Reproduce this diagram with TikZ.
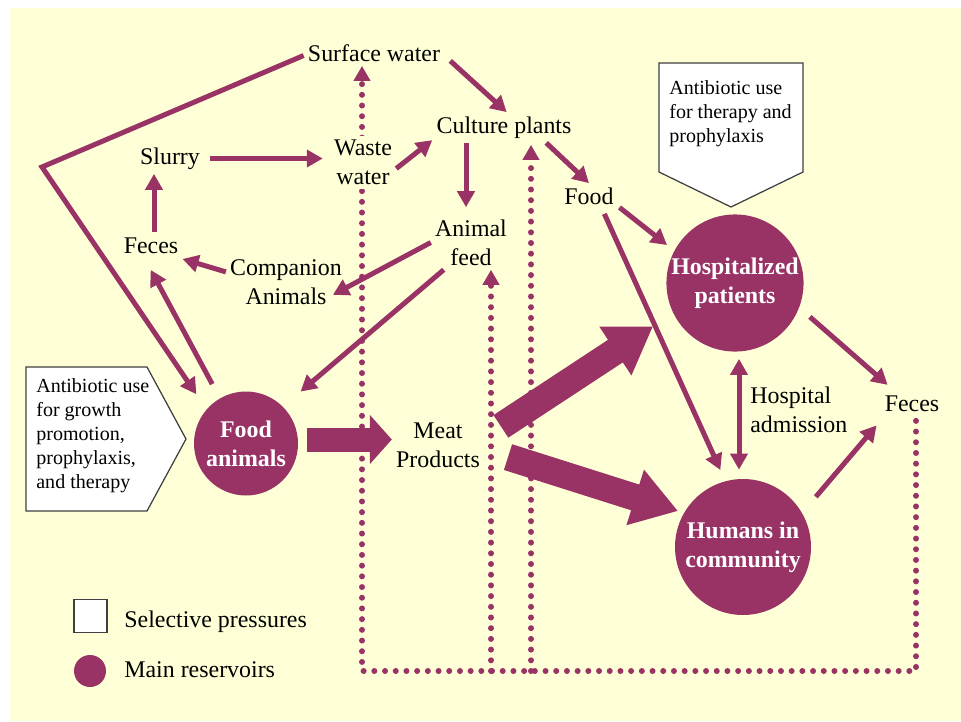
\documentclass[tikz,border=0pt]{standalone}
\usepackage{fontspec}
\setmainfont{Liberation Serif}
\usetikzlibrary{arrows.meta}
\definecolor{plum}{RGB}{153,51,102}
\definecolor{cream}{RGB}{255,255,215}

\begin{document}
\begin{tikzpicture}[x=0.2mm, y=-0.2mm,
  font=\fontsize{13.6}{16.5}\selectfont,
  word/.style={inner sep=0.8mm, text height=3.3mm, text depth=1.1mm},
  twoline/.style={inner sep=0.8mm, align=center},
  pool/.style={circle, fill=plum, text=white, inner sep=0pt, align=center,
    font=\fontsize{13.6}{16.5}\selectfont\bfseries},
  note/.style={inner sep=0pt, align=left, font=\fontsize{11.4}{13.7}\selectfont},
  pressure/.style={fill=white, draw=black!75, line width=0.25mm},
  arr/.style={draw=plum, line width=1mm, -{Triangle[length=3.2mm,width=3.4mm]}},
  dbl/.style={draw=plum, line width=1mm,
    {Triangle[length=3.2mm,width=3.4mm]}-{Triangle[length=3.2mm,width=3.4mm]}},
  fat/.style={draw=plum, line width=5.4mm, -{Triangle[length=9mm,width=11mm]}},
  dots/.style={draw=plum, line width=1.2mm, line cap=round,
    dash pattern=on 0pt off 2.14mm, -{Triangle[length=3mm,width=3.2mm]}}]

  \useasboundingbox (0,0) rectangle (961,721);
  \fill[cream] (10,8) rectangle (961,721);

  % reservoirs
  \node[pool, minimum size=27.2mm] (hosp) at (735,283) {Hospitalized\\patients};
  \node[pool, minimum size=27.2mm] (hum) at (743,547) {Humans in\\community};
  \node[pool, minimum size=20.8mm] (fa) at (246,443.5) {Food\\animals};

  % everything else
  \node[word] (sw) at (374,55.5) {Surface water};
  \node[word] (cp) at (504,127.5) {Culture plants};
  \node[word] (slurry) at (170,158.5) {Slurry};
  \node[word] (fecesL) at (151,247.5) {Feces};
  \node[twoline] (comp) at (286,282.5) {Companion\\Animals};
  \node[twoline] (feed) at (471,242.5) {Animal\\feed};
  \node[word] (food) at (589,198.5) {Food};
  \node[twoline] (meat) at (438,445.5) {Meat\\Products};
  \node[word] (fecesR) at (912,405.5) {Feces};
  \node[inner sep=0pt, align=left, anchor=west] (adm) at (750,409.5) {Hospital\\admission};
  \coordinate (bend) at (42,167);
  \coordinate (loop) at (362,671);

  % back flow
  \draw[dots, shorten >=-1mm] ([xshift=0.8mm]fecesR.south) |- (loop) -- (loop |- sw.south);
  \draw[dots] ([xshift=4mm]feed.south |- loop) -- ([xshift=4mm]feed.south);
  \draw[dots, shorten >=0.4mm] ([xshift=5.4mm]cp.south |- loop) -- ([xshift=5.4mm]cp.south);
  \node[twoline, fill=cream] (waste) at (363,162.7) {Waste\\water};

  % selective pressures
  \draw[pressure] (659,63) -- (803,63) -- (803,172) -- (731,207) -- (659,172) -- cycle;
  \node[note, anchor=north west] (usehosp) at (669,80) {Antibiotic use\\for therapy and\\prophylaxis};
  \draw[pressure] (26,367) -- (147,367) -- (186,439) -- (147,511) -- (26,511) -- cycle;
  \node[note, anchor=north west] (usefarm) at (36,378) {Antibiotic use\\for growth\\promotion,\\prophylaxis,\\and therapy};

  \draw[arr, shorten >=3.6mm] (sw.west) -- (bend) -- (fa.139);
  \draw[arr, shorten <=3.2mm, shorten >=1.6mm] (fa.120) -- (fecesL.-105);
  \draw[arr] ([xshift=0.6mm]fecesL.north) -- ([xshift=0.6mm]fecesL.north |- slurry.south);
  \draw[arr, shorten <=1.2mm, shorten >=1.4mm] (slurry.east) -- (slurry.east -| waste.west);
  \draw[arr] (waste.-10) -- (cp.190);
  \draw[arr, shorten <=1.6mm] (sw.east) -- (cp.80);
  \draw[arr, shorten >=1.6mm] ([xshift=-1mm]feed.north |- cp.south) -- ([xshift=-1mm]feed.north);
  \draw[arr, shorten >=-3mm] (feed.west) -- (comp.-5);
  \draw[arr] (comp.170) -- (fecesL.-20);
  \draw[arr, shorten >=4.6mm] (feed.-135) -- (fa.45);
  \draw[arr] (cp.-20) -- (food.north);
  \draw[arr, shorten <=0.4mm, shorten >=1.8mm] (food.-15) -- (hosp.152);
  \draw[arr, shorten >=2.4mm] (food.-45) -- (hum.105);
  \draw[dbl, shorten <=1.4mm, shorten >=1.8mm] ([xshift=0.8mm]hosp.south) -- ([xshift=0.8mm]hosp.south |- hum.north);
  \draw[arr, shorten <=2.8mm, shorten >=1.6mm] (hosp.-21) -- (fecesR.140);
  \draw[arr, shorten <=4.2mm, shorten >=1.2mm] (hum.30) -- (fecesR.south west);

  % meat trade
  \draw[fat, line width=4.8mm, -{Triangle[length=4.4mm,width=9.6mm]}, shorten <=1.8mm]
    ([yshift=0.8mm]fa.east) -- ([yshift=0.8mm]fa.east -| meat.west);
  \draw[fat, shorten <=4mm, shorten >=4.8mm] (meat.10) -- (hosp.206);
  \draw[fat, shorten <=5mm, shorten >=1.2mm] (meat.-5) -- (hum.150);

  % key
  \node[pressure, minimum size=6.6mm, inner sep=0pt] (keybox) at (90.5,616) {};
  \node[circle, fill=plum, minimum size=6.4mm, inner sep=0pt] (keydot) at (90,671) {};
  \node[inner sep=0pt, anchor=base west] (keyboxtext) at (124,627) {Selective pressures};
  \node[inner sep=0pt, anchor=base west] (keydottext) at (124,677) {Main reservoirs};
\end{tikzpicture}
\end{document}
